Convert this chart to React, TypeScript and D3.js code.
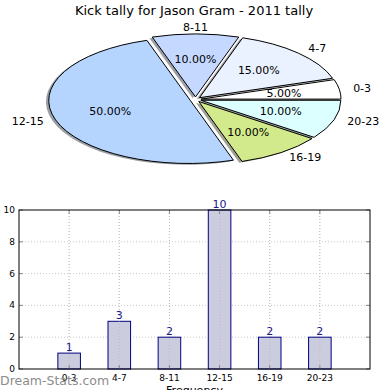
// @ts-nocheck
import * as d3 from 'd3';

const title = 'Kick tally for Jason Gram - 2011 tally';
const categories = ['0-3', '4-7', '8-11', '12-15', '16-19', '20-23'];
const counts = [1, 3, 2, 10, 2, 2];
const sliceColors = ['#ffffff', '#eaf1ff', '#c5d8ff', '#b5d5ff', '#d2ea8c', '#dcffff'];
const yTicks = [0, 2, 4, 6, 8, 10];
const xLabel = 'Frequency';
const yLabel = 'Total Kick Tally';
const watermark = 'Dream-Stats.com';

const W = 390;
const H = 390;
const font = 'DejaVu Sans, sans-serif';

// pie geometry (ellipse, matplotlib style)
const cx = 195.5;
const cy = 99.5;
const rx = 140;
const ry = 63;
const explode = 0.04;

function shade(c) {
  const col = d3.rgb(c);
  return d3.rgb(col.r * 0.3, col.g * 0.3, col.b * 0.3).toString();
}

const Pie = () => {
  const total = d3.sum(counts);
  const pie = d3.pie().sort(null).startAngle(Math.PI / 2).endAngle(Math.PI / 2 - 2 * Math.PI);
  const arcs = pie(counts);
  const arc = d3.arc().innerRadius(0).outerRadius(1);

  const pos = (a, r) => [cx + Math.sin(a) * r * rx, cy - Math.cos(a) * r * ry];

  return (
    <g>
      {/* shadows */}
      {arcs.map((d, i) => {
        const mid = (d.startAngle + d.endAngle) / 2;
        const ox = Math.sin(mid) * explode - 0.02;
        const oy = -Math.cos(mid) * explode + 0.02;
        return (
          <path
            key={'s' + i}
            d={arc(d)}
            transform={`translate(${cx + ox * rx},${cy + oy * ry}) scale(${rx},${ry})`}
            fill={shade(sliceColors[i])}
            opacity={0.5}
          />
        );
      })}
      {arcs.map((d, i) => {
        const mid = (d.startAngle + d.endAngle) / 2;
        const ox = Math.sin(mid) * explode;
        const oy = -Math.cos(mid) * explode;
        return (
          <path
            key={'p' + i}
            d={arc(d)}
            transform={`translate(${cx + ox * rx},${cy + oy * ry}) scale(${rx},${ry})`}
            fill={sliceColors[i]}
            stroke="#000"
            strokeWidth={1}
            vectorEffect="non-scaling-stroke"
          />
        );
      })}
      {arcs.map((d, i) => {
        const mid = (d.startAngle + d.endAngle) / 2;
        const [lx, ly] = pos(mid, 1.1 + explode);
        const [px, py] = pos(mid, 0.6 + explode);
        const s = Math.sin(mid);
        return (
          <g key={'l' + i}>
            <text
              x={lx}
              y={ly}
              textAnchor={Math.abs(s) < 0.05 ? 'middle' : s > 0 ? 'start' : 'end'}
              dominantBaseline="central"
              fontSize={11}
              fontFamily={font}
              fill="#000"
            >
              {categories[i]}
            </text>
            <text
              x={px}
              y={py}
              textAnchor="middle"
              dominantBaseline="central"
              fontSize={11}
              fontFamily={font}
              fill="#000"
            >
              {((counts[i] / total) * 100).toFixed(2) + '%'}
            </text>
          </g>
        );
      })}
    </g>
  );
};

const Bars = () => {
  const left = 19;
  const right = 370;
  const top = 210;
  const bottom = 369;
  const x = d3.scaleLinear().domain([-1, 6]).range([left, right]);
  const y = d3.scaleLinear().domain([0, 10]).range([bottom, top]);
  const bw = x(0.45) - x(0);

  return (
    <g>
      {/* grid */}
      {categories.map((c, i) => (
        <line key={'gx' + i} x1={x(i)} x2={x(i)} y1={top} y2={bottom} stroke="#c8c8c8" strokeDasharray="1,2" />
      ))}
      {yTicks.slice(1, -1).map((t) => (
        <line key={'gy' + t} x1={left} x2={right} y1={y(t)} y2={y(t)} stroke="#c8c8c8" strokeDasharray="1,2" />
      ))}
      {/* bars */}
      {counts.map((v, i) => (
        <rect
          key={'b' + i}
          x={x(i) - bw / 2}
          y={y(v)}
          width={bw}
          height={y(0) - y(v)}
          fill="#ccccdf"
          stroke="#000080"
          strokeWidth={1}
        />
      ))}
      {categories.map((c, i) => (
        <line key={'gx2' + i} x1={x(i)} x2={x(i)} y1={top} y2={bottom} stroke="#b0b0b0" strokeDasharray="1,2" opacity={0.5} />
      ))}
      {counts.map((v, i) => (
        <text
          key={'v' + i}
          x={x(i)}
          y={y(v) - 2}
          textAnchor="middle"
          fontSize={11}
          fontFamily={font}
          fill="#1a1a8c"
        >
          {v}
        </text>
      ))}
      {/* ticks */}
      {yTicks.map((t) => (
        <g key={'yt' + t}>
          <line x1={left} x2={left + 4} y1={y(t)} y2={y(t)} stroke="#888" />
          <line x1={right - 4} x2={right} y1={y(t)} y2={y(t)} stroke="#888" />
          <text x={left - 4} y={y(t)} textAnchor="end" dominantBaseline="central" fontSize={9} fontFamily={font} fill="#000">
            {t}
          </text>
        </g>
      ))}
      {categories.map((c, i) => (
        <g key={'xt' + i}>
          <line x1={x(i)} x2={x(i)} y1={bottom} y2={bottom - 4} stroke="#888" />
          <line x1={x(i)} x2={x(i)} y1={top} y2={top + 4} stroke="#888" />
          <text x={x(i)} y={378} textAnchor="middle" dominantBaseline="central" fontSize={9} fontFamily={font} fill="#000">
            {c}
          </text>
        </g>
      ))}
      <rect x={left} y={top} width={right - left} height={bottom - top} fill="none" stroke="#000" strokeWidth={1} />
      <text x={(left + right) / 2} y={394} textAnchor="middle" fontSize={11} fontFamily={font} fill="#000">
        {xLabel}
      </text>
      <text
        transform={`translate(-2,${(top + bottom) / 2}) rotate(-90)`}
        textAnchor="middle"
        fontSize={10}
        fontFamily={font}
        fill="#000"
      >
        {yLabel}
      </text>
      <text x={0} y={385} fontSize={12.5} fontFamily={font} fill="#8c8c8c">
        {watermark}
      </text>
    </g>
  );
};

export default function App() {
  return (
    <svg width={W} height={H} style={{ position: 'absolute', left: 0, top: 0, background: '#fff' }}>
      <rect width={W} height={H} fill="#fff" />
      <text x={194} y={15} textAnchor="middle" fontSize={13} fontFamily={font} fill="#000">
        {title}
      </text>
      <Pie />
      <Bars />
    </svg>
  );
}
